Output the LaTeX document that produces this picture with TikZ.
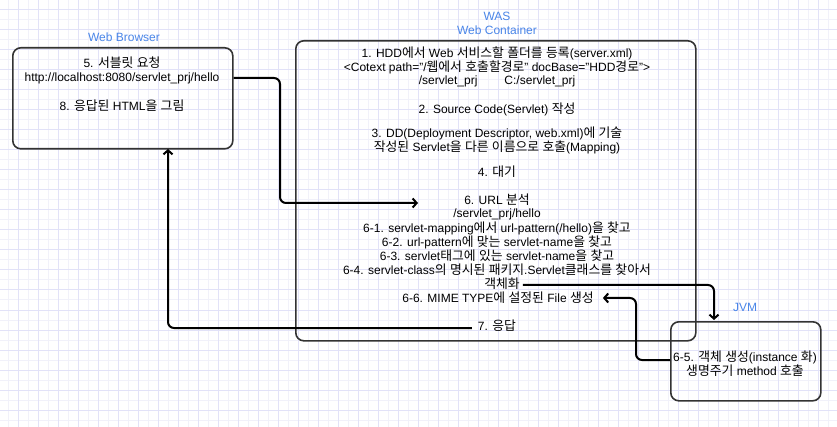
\documentclass[tikz,border=0pt]{standalone}
\usepackage{fontspec}
\setmainfont{Liberation Sans}
\newfontfamily\krfont[Scale=1.07]{Noto Sans CJK KR}
\usetikzlibrary{arrows.meta}
\definecolor{lblue}{RGB}{74,134,232}
\definecolor{boxc}{RGB}{51,51,51}
\definecolor{gridl}{RGB}{241,241,250}
\definecolor{gridd}{RGB}{226,226,248}
\newXeTeXintercharclass\krclass
\count255="AC00
\loop\XeTeXcharclass\count255=\krclass\relax\ifnum\count255<"D7A3 \advance\count255 by 1\repeat
\XeTeXinterchartoks 0 \krclass = {\krfont}
\XeTeXinterchartoks 4095 \krclass = {\krfont}
\XeTeXinterchartoks \krclass 0 = {\normalfont}
\XeTeXinterchartoks \krclass 4095 = {\normalfont}
\XeTeXinterchartokenstate=1
\begin{document}
\begin{tikzpicture}[x=1pt,y=-1pt,
  box/.style={draw=boxc, line width=1.6pt, rounded corners=8pt, inner sep=0pt},
  txt/.style={font=\fontsize{12}{14}\selectfont, inner sep=0pt, text=black},
  lbl/.style={font=\fontsize{12}{14}\selectfont, inner sep=0pt, text=lblue},
  conn/.style={draw=black, line width=2pt, rounded corners=6pt, -{Straight Barb[length=4pt,width=9pt]}}]
\useasboundingbox (0,0) rectangle (837,427);
\fill[white] (0,0) rectangle (837,427);
\foreach \x in {8,28,...,828} \draw[gridl, line width=1pt] (\x,0) -- (\x,427);
\foreach \y in {0,20,...,420} \draw[gridl, line width=1pt] (0,\y) -- (837,\y);
\foreach \x in {18,38,...,838} \draw[gridd, line width=1pt] (\x,0) -- (\x,427);
\foreach \y in {10,30,...,430} \draw[gridd, line width=1pt] (0,\y) -- (837,\y);

% boxes
\node[box, minimum width=220pt, minimum height=101pt, anchor=north west] (browser) at (12,47) {};
\node[box, minimum width=400pt, minimum height=300pt, anchor=north west] (was) at (295,40) {};
\node[box, minimum width=150pt, minimum height=79pt, anchor=north west] (jvm) at (670,321) {};

% labels
\node[lbl] (lbrowser) at (124,37) {Web Browser};
\node[lbl] (lwas) at (497,16) {WAS};
\node[lbl] (lcont) at (497,30) {Web Container};
\node[lbl] (ljvm) at (745,307) {JVM};

% browser text
\node[txt] (b5) at (122,63) {5. 서블릿 요청};
\node[txt] (http) at (122,78) {http://localhost:8080/servlet\_prj/hello};
\node[txt] (b8) at (122,106) {8. 응답된 HTML을 그림};

% WAS text
\node[txt] (w1) at (497,53) {1. HDD에서 Web 서비스할 폴더를 등록(server.xml)};
\node[txt] (w1b) at (497,67) {<Cotext path="/웹에서 호출할경로" docBase="HDD경로">};
\node[txt] (w1c) at (497,81) {/servlet\_prj\hspace{27pt}C:/servlet\_prj};
\node[txt] (w2) at (497,109) {2. Source Code(Servlet) 작성};
\node[txt] (w3) at (497,133) {3. DD(Deployment Descriptor, web.xml)에 기술};
\node[txt] (w3b) at (497,147) {작성된 Servlet을 다른 이름으로 호출(Mapping)};
\node[txt] (w4) at (497,172) {4. 대기};
\node[txt] (url) at (497,200) {6. URL 분석};
\node[txt] (w6a) at (497,214) {/servlet\_prj/hello};
\node[txt] (w61) at (497,228) {6-1. servlet-mapping에서 url-pattern(/hello)을 찾고};
\node[txt] (w62) at (497,242) {6-2. url-pattern에 맞는 servlet-name을 찾고};
\node[txt] (w63) at (497,256) {6-3. servlet태그에 있는 servlet-name을 찾고};
\node[txt] (w64) at (497,270) {6-4. servlet-class의 명시된 패키지.Servlet클래스를 찾아서};
\node[txt] (obj) at (502,284) {객체화};
\node[txt] (mime) at (498,298) {6-6. MIME TYPE에 설정된 File 생성};
\node[txt] (resp) at (497,326) {7. 응답};

% JVM text
\node[txt] (j1) at (745,357) {6-5. 객체 생성(instance 화)};
\node[txt] (j2) at (745,371) {생명주기 method 호출};

% connector coordinates
\coordinate (urlin) at (418,203);
\coordinate (bin) at (168,149);
\coordinate (jin) at (714,320);
\coordinate (jout) at (670,360);

% connectors
\draw[conn] (browser.east |- http) -- (280,78) -- (280,203) -- (urlin);
\draw[conn] ([xshift=-6pt,yshift=-2pt]resp.west) -| (bin);
\draw[conn] ([xshift=3pt,yshift=-1pt]obj.east) -| (jin);
\draw[conn] (jout) -- (636,360) |- ([xshift=9pt]mime.east);
\end{tikzpicture}
\end{document}
